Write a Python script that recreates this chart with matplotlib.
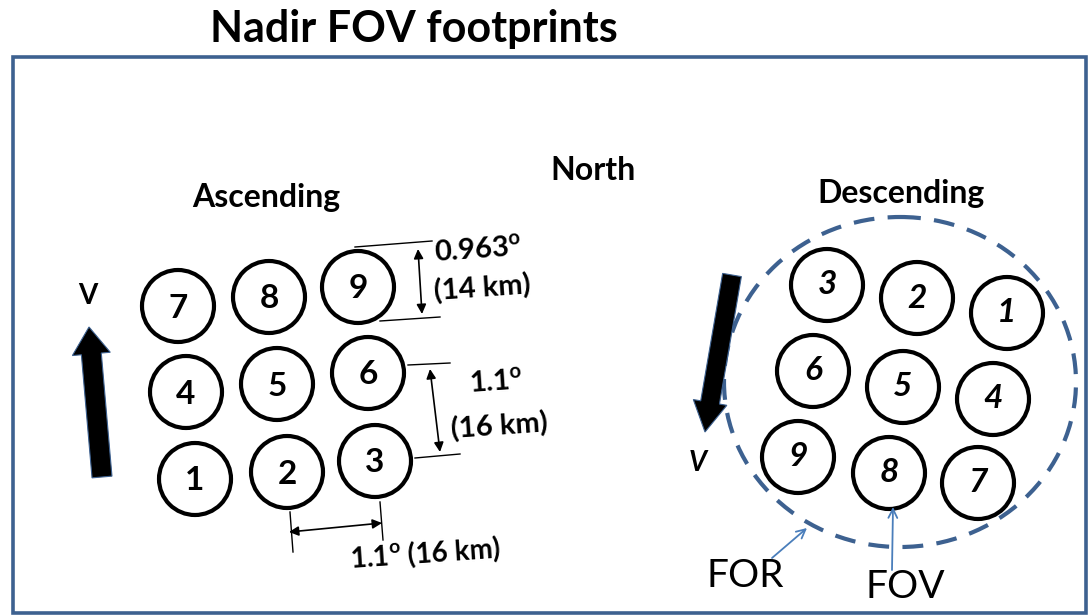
"""Nadir FOV footprints: ascending / descending FOV layout inside the FOR."""
import numpy as np
import matplotlib
matplotlib.use('Agg')
import matplotlib.pyplot as plt
from matplotlib.patches import Circle, Ellipse, Rectangle, FancyArrow

plt.rcParams['font.family'] = ['Lato', 'DejaVu Sans']
plt.rcParams['mathtext.fontset'] = 'custom'
plt.rcParams['mathtext.rm'] = 'Lato'
plt.rcParams['mathtext.bf'] = 'Lato:bold'

FRAME = '#3d6190'
LIGHT = '#4a7ebb'

# FOV footprint centres (pixel frame of the figure) and labels
asc_labels = ['7', '8', '9', '4', '5', '6', '1', '2', '3']
asc_x = [178, 269, 358, 186, 277, 368, 195, 287, 375]
asc_y = [306, 297, 287, 392, 384, 373, 479, 472, 461]

desc_labels = ['3', '2', '1', '6', '5', '4', '9', '8', '7']
desc_x = [827, 917, 1007, 813, 903, 993, 798, 889, 978]
desc_y = [285, 298, 313, 371, 387, 399, 457, 473, 483]

fov_radius = 36
for_center = (900, 382)
for_size = (352, 330)

fig = plt.figure(figsize=(10.92, 6.16), dpi=100)
ax = fig.add_axes([0, 0, 1, 1])
ax.set_xlim(0, 1092)
ax.set_ylim(616, 0)
ax.axis('off')

# frame and title
ax.add_patch(Rectangle((13, 57), 1073, 556, fill=False, ec=FRAME, lw=2.6))
ax.text(414, 29, 'Nadir FOV footprints', ha='center', va='center',
        fontsize=31, fontweight='bold')

ax.text(266, 197, 'Ascending', ha='center', va='center', fontsize=23, fontweight='bold')
ax.text(593, 171, 'North', ha='center', va='center', fontsize=23, fontweight='bold')
ax.text(901, 193, 'Descending', ha='center', va='center', fontsize=23, fontweight='bold')

# footprints
for lab, x, y in zip(asc_labels, asc_x, asc_y):
    ax.add_patch(Circle((x, y), fov_radius, fill=False, ec='black', lw=3))
    ax.text(x, y + 2, lab, ha='center', va='center', fontsize=24, fontweight='bold')
for lab, x, y in zip(desc_labels, desc_x, desc_y):
    ax.add_patch(Circle((x, y), fov_radius, fill=False, ec='black', lw=3))
    ax.text(x, y, lab, ha='center', va='center', fontsize=24,
            fontweight='bold', style='italic')

# field of regard
ax.add_patch(Ellipse(for_center, for_size[0], for_size[1], fill=False, ec=FRAME,
                     lw=3, linestyle=(0, (5, 3.2))))

# velocity arrows
ax.add_patch(FancyArrow(102, 477, -13, -150, width=20, head_width=38, head_length=27,
                        length_includes_head=True, fc='black', ec=FRAME, lw=0.8))
ax.text(88, 296, 'V', ha='center', va='center', fontsize=20, fontweight='bold')
ax.add_patch(FancyArrow(732, 275, -27, 157, width=19, head_width=34, head_length=30,
                        length_includes_head=True, fc='black', ec=FRAME, lw=0.8))
ax.text(698, 463, 'V', ha='center', va='center', fontsize=20, fontweight='bold',
        style='italic')

# dimension lines
dim = dict(color='black', lw=1.0)
ax.plot([355, 432], [247, 241], **dim)
ax.plot([380, 440], [321, 317], **dim)
ax.plot([408, 450], [365, 363], **dim)
ax.plot([415, 460], [458, 454], **dim)
ax.plot([290, 293], [512, 552], **dim)
ax.plot([380, 383], [502, 540], **dim)
arr = dict(arrowstyle='<|-|>', color='black', lw=1.2, mutation_scale=14,
           shrinkA=0, shrinkB=0)
ax.annotate('', xy=(418, 249), xytext=(422, 314), arrowprops=arr)
ax.annotate('', xy=(430, 369), xytext=(440, 452), arrowprops=arr)
ax.annotate('', xy=(289, 532), xytext=(382, 523), arrowprops=arr)

ax.text(478, 250, r'0.963$^{\mathbf{o}}$', ha='center', va='center', fontsize=21,
        fontweight='bold', rotation=4)
ax.text(482, 289, '(14 km)', ha='center', va='center', fontsize=21,
        fontweight='bold', rotation=4)
ax.text(496, 382, r'1.1$^{\mathbf{o}}$', ha='center', va='center', fontsize=21,
        fontweight='bold', rotation=4)
ax.text(499, 427, '(16 km)', ha='center', va='center', fontsize=21,
        fontweight='bold', rotation=4)
ax.text(425, 554, r'1.1$^{\mathbf{o}}$ (16 km)', ha='center', va='center', fontsize=20,
        fontweight='bold', rotation=4)

# FOR / FOV pointers
ptr = dict(arrowstyle='->', color=LIGHT, lw=1.3, mutation_scale=16, shrinkA=0, shrinkB=0)
ax.annotate('', xy=(807, 528), xytext=(772, 558), arrowprops=ptr)
ax.annotate('', xy=(893, 507), xytext=(892, 570), arrowprops=ptr)
ax.text(745, 576, 'FOR', ha='center', va='center', fontsize=28)
ax.text(905, 587, 'FOV', ha='center', va='center', fontsize=28)

fig.savefig('out.png', dpi=100)
